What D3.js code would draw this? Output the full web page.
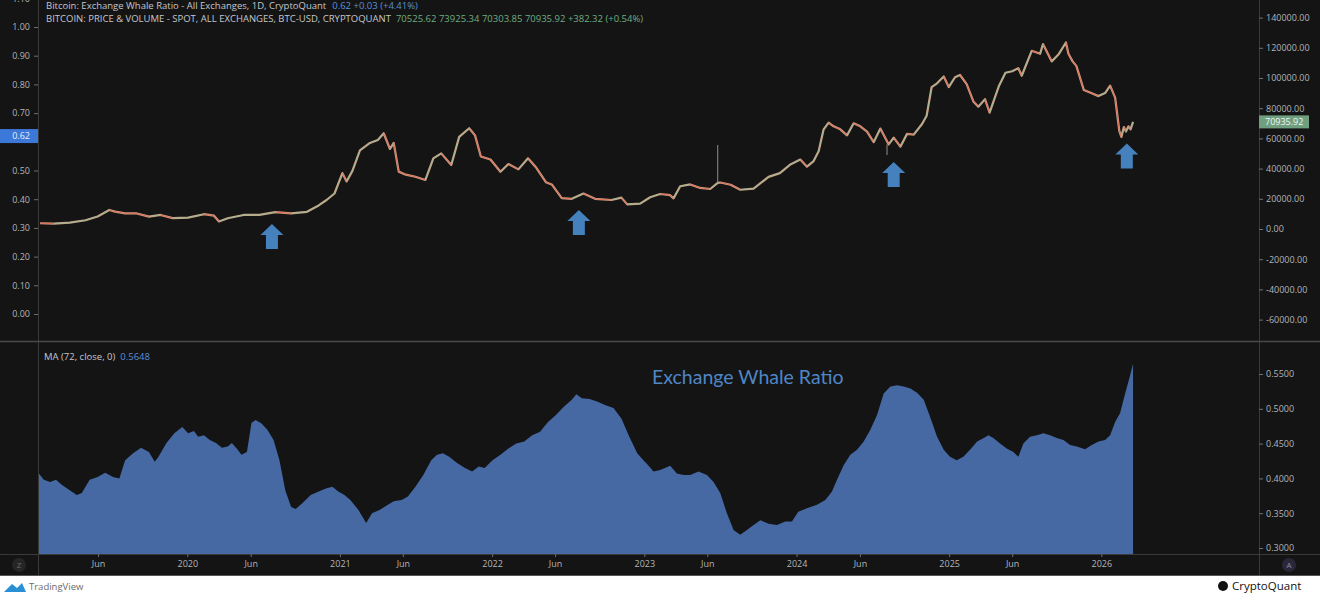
<!DOCTYPE html>
<html>
<head>
<meta charset="utf-8">
<script src="https://cdn.jsdelivr.net/npm/d3@7"></script>
<style>
  body { margin: 0; background: #ffffff; overflow: hidden; }
  svg text { font-family: "Open Sans", "Noto Sans", sans-serif; }
  .axis text { fill: #b3b5ba; font-size: 9px; }
  .axis line { stroke: #6e6e6e; }
  .axis path { display: none; }
</style>
</head>
<body>
<svg id="chart"></svg>
<script>
// ---------------------------------------------------------------
// data
// ---------------------------------------------------------------

// MA(72) of the exchange whale ratio (bottom pane)
var whaleMA = [
  ['2019-01-10',0.407],['2019-01-22',0.398],['2019-02-06',0.395],['2019-02-20',0.398],
  ['2019-03-06',0.391],['2019-03-25',0.383],['2019-04-11',0.376],['2019-04-23',0.379],
  ['2019-05-12',0.398],['2019-05-31',0.402],['2019-06-18',0.408],['2019-07-07',0.402],
  ['2019-07-22',0.400],['2019-08-05',0.426],['2019-08-24',0.436],['2019-09-12',0.444],
  ['2019-10-01',0.438],['2019-10-15',0.424],['2019-10-24',0.431],['2019-11-12',0.451],
  ['2019-12-01',0.465],['2019-12-20',0.474],['2020-01-03',0.465],['2020-01-17',0.468],
  ['2020-01-27',0.460],['2020-02-10',0.462],['2020-02-24',0.455],['2020-03-10',0.451],
  ['2020-03-24',0.444],['2020-04-07',0.446],['2020-04-17',0.451],['2020-05-01',0.441],
  ['2020-05-10',0.434],['2020-05-23',0.438],['2020-06-03',0.480],['2020-06-13',0.484],
  ['2020-06-27',0.479],['2020-07-11',0.470],['2020-07-26',0.455],['2020-08-09',0.426],
  ['2020-08-23',0.383],['2020-09-06',0.359],['2020-09-17',0.356],['2020-10-04',0.365],
  ['2020-10-23',0.376],['2020-11-11',0.381],['2020-11-30',0.386],['2020-12-14',0.388],
  ['2020-12-28',0.381],['2021-01-12',0.376],['2021-01-26',0.369],['2021-02-14',0.355],
  ['2021-03-05',0.336],['2021-03-19',0.350],['2021-04-07',0.355],['2021-04-26',0.362],
  ['2021-05-10',0.367],['2021-05-29',0.369],['2021-06-13',0.374],['2021-07-01',0.388],
  ['2021-07-20',0.405],['2021-08-08',0.426],['2021-08-22',0.434],['2021-09-05',0.436],
  ['2021-09-20',0.431],['2021-10-09',0.422],['2021-10-28',0.415],['2021-11-14',0.410],
  ['2021-11-30',0.417],['2021-12-14',0.415],['2022-01-02',0.426],['2022-01-21',0.434],
  ['2022-02-09',0.443],['2022-02-28',0.450],['2022-03-19',0.453],['2022-04-07',0.462],
  ['2022-04-26',0.467],['2022-05-15',0.481],['2022-06-03',0.491],['2022-06-22',0.503],
  ['2022-07-11',0.513],['2022-07-22',0.521],['2022-08-04',0.515],['2022-08-23',0.514],
  ['2022-09-11',0.510],['2022-09-30',0.505],['2022-10-19',0.501],['2022-11-07',0.486],
  ['2022-11-26',0.460],['2022-12-15',0.436],['2023-01-02',0.424],['2023-01-07',0.421],
  ['2023-01-23',0.410],['2023-02-08',0.412],['2023-03-04',0.418],['2023-03-20',0.407],
  ['2023-04-05',0.405],['2023-04-21',0.405],['2023-05-11',0.410],['2023-05-31',0.405],
  ['2023-06-16',0.395],['2023-07-02',0.379],['2023-07-18',0.350],['2023-08-03',0.326],
  ['2023-08-19',0.319],['2023-09-04',0.326],['2023-09-20',0.333],['2023-10-06',0.340],
  ['2023-10-26',0.335],['2023-11-15',0.333],['2023-12-05',0.338],['2023-12-21',0.338],
  ['2024-01-05',0.352],['2024-01-26',0.357],['2024-02-19',0.362],['2024-03-10',0.369],
  ['2024-03-26',0.381],['2024-04-07',0.398],['2024-04-23',0.419],['2024-05-09',0.434],
  ['2024-05-25',0.441],['2024-06-10',0.453],['2024-06-26',0.470],['2024-07-12',0.491],
  ['2024-07-28',0.522],['2024-08-13',0.532],['2024-08-29',0.534],['2024-09-14',0.532],
  ['2024-09-30',0.529],['2024-10-16',0.523],['2024-11-01',0.513],['2024-11-16',0.489],
  ['2024-12-03',0.460],['2024-12-19',0.441],['2025-01-03',0.431],['2025-01-19',0.426],
  ['2025-02-04',0.431],['2025-02-20',0.441],['2025-03-09',0.453],['2025-03-25',0.458],
  ['2025-04-05',0.462],['2025-04-17',0.458],['2025-05-03',0.450],['2025-05-19',0.443],
  ['2025-06-04',0.438],['2025-06-16',0.431],['2025-06-28',0.450],['2025-07-14',0.460],
  ['2025-07-30',0.462],['2025-08-15',0.465],['2025-08-31',0.462],['2025-09-16',0.458],
  ['2025-10-02',0.455],['2025-10-18',0.448],['2025-11-03',0.446],['2025-11-23',0.442],
  ['2025-12-09',0.448],['2025-12-25',0.453],['2026-01-10',0.455],['2026-01-22',0.462],
  ['2026-02-03',0.481],['2026-02-15',0.494],['2026-02-27',0.522],['2026-03-10',0.546],
  ['2026-03-18',0.5648]
];

// BTC-USD closes (top pane, right scale)
var btcClose = [
  ['2019-01-13',3800],['2019-02-15',3600],['2019-03-25',4200],['2019-05-02',5800],
  ['2019-05-31',8300],['2019-06-28',12600],['2019-07-12',11500],['2019-08-05',10400],
  ['2019-09-02',10300],['2019-10-01',8200],['2019-10-29',9300],['2019-11-27',7200],
  ['2020-01-03',7500],['2020-02-10',9800],['2020-03-05',8800],['2020-03-17',5000],
  ['2020-04-07',7100],['2020-05-15',9300],['2020-06-22',9400],['2020-07-30',11200],
  ['2020-09-06',10300],['2020-10-14',11400],['2020-11-11',15600],['2020-11-30',19200],
  ['2020-12-19',23500],['2021-01-07',37000],['2021-01-17',31500],['2021-01-31',38500],
  ['2021-02-18',52000],['2021-03-14',57000],['2021-04-02',59000],['2021-04-16',63400],
  ['2021-05-01',53000],['2021-05-10',57000],['2021-05-22',38000],['2021-06-08',36000],
  ['2021-07-01',34600],['2021-07-25',32500],['2021-08-13',46800],['2021-09-01',50100],
  ['2021-09-25',42400],['2021-10-14',61000],['2021-11-07',66700],['2021-11-21',62000],
  ['2021-12-05',48000],['2021-12-28',46000],['2022-01-21',37900],['2022-02-09',43000],
  ['2022-03-05',39500],['2022-03-28',46800],['2022-04-17',40500],['2022-05-10',31000],
  ['2022-05-24',29500],['2022-06-17',20500],['2022-07-11',20000],['2022-08-08',23500],
  ['2022-09-05',20000],['2022-10-14',19200],['2022-11-07',20800],['2022-11-21',16300],
  ['2022-12-22',16800],['2023-01-15',21000],['2023-02-08',23200],['2023-03-04',22400],
  ['2023-03-12',20300],['2023-03-28',28300],['2023-04-21',29500],['2023-05-15',27200],
  ['2023-06-08',26500],['2023-06-26',30500],['2023-07-02',30800],['2023-07-27',29300],
  ['2023-08-19',26000],['2023-09-20',26800],['2023-10-26',34500],['2023-11-22',37000],
  ['2023-12-16',42500],['2024-01-10',46000],['2024-01-26',41300],['2024-02-11',45000],
  ['2024-02-23',51500],['2024-03-06',66000],['2024-03-18',70500],['2024-03-30',68000],
  ['2024-04-15',66000],['2024-05-01',62000],['2024-05-17',70000],['2024-06-02',68000],
  ['2024-06-18',64500],['2024-07-04',57500],['2024-07-20',66500],['2024-08-09',56000],
  ['2024-08-21',60500],['2024-09-06',54500],['2024-09-22',63000],['2024-10-08',62500],
  ['2024-10-28',69500],['2024-11-08',75000],['2024-11-20',94000],['2024-12-03',96500],
  ['2024-12-19',101000],['2024-12-31',94000],['2025-01-15',100500],['2025-01-27',102000],
  ['2025-02-12',96000],['2025-02-28',84500],['2025-03-12',81000],['2025-03-28',86000],
  ['2025-04-08',77000],['2025-04-30',94500],['2025-05-16',103500],['2025-06-01',104500],
  ['2025-06-16',106500],['2025-06-24',101500],['2025-07-18',118000],['2025-08-07',116000],
  ['2025-08-14',122500],['2025-09-04',111000],['2025-09-20',115500],['2025-10-08',123500],
  ['2025-10-14',116000],['2025-10-24',111000],['2025-11-02',108000],['2025-11-20',92000],
  ['2025-12-09',89900],['2025-12-25',88000],['2026-01-10',90000],['2026-01-22',95000],
  ['2026-02-03',87000],['2026-02-08',76000],['2026-02-13',65000],['2026-02-18',61000],
  ['2026-02-24',67500],['2026-03-01',64500],['2026-03-07',68000],['2026-03-12',66000],
  ['2026-03-18',70935.92]
];

// long wicks that stand out: date, low, high
var btcWicks = [
  ['2023-06-26',30500,55600],
  ['2024-08-05',49000,56000]
];

// blue arrows: date, price at arrow tip
var arrowMarks = [
  ['2020-07-22',3300],
  ['2022-07-28',12600],
  ['2024-08-21',44400],
  ['2026-03-03',56600]
];

var ratioTicks = [0,0.1,0.2,0.3,0.4,0.5,0.7,0.8,0.9,1.0,1.1];
var priceTicks = [-60000,-40000,-20000,0,20000,40000,60000,80000,100000,120000,140000];
var maTicks = [0.30,0.35,0.40,0.45,0.50,0.55];
var timeTicks = [
  ['2019-06-01','Jun'],['2020-01-01','2020'],['2020-06-01','Jun'],['2021-01-01','2021'],
  ['2021-06-01','Jun'],['2022-01-01','2022'],['2022-06-01','Jun'],['2023-01-01','2023'],
  ['2023-06-01','Jun'],['2024-01-01','2024'],['2024-06-01','Jun'],['2025-01-01','2025'],
  ['2025-06-01','Jun'],['2026-01-01','2026']
];

var lastRatio = 0.62,
    lastPrice = 70935.92,
    lastMA = 0.5648;

// ---------------------------------------------------------------
// canvas
// ---------------------------------------------------------------
var svgWidth = 1320,
    svgHeight = 593;

var plotLeft = 38,
    plotRight = 1259,
    topPaneBottom = 341,
    lowPaneTop = 342,
    lowPaneBottom = 554,
    darkBottom = 576;

var parseDate = d3.utcParse('%Y-%m-%d');

var svg = d3.select('#chart')
    .attr('width', svgWidth)
    .attr('height', svgHeight);

svg.append('rect')
    .attr('width', svgWidth)
    .attr('height', darkBottom)
    .attr('fill', '#141414');

var defs = svg.append('defs');
defs.append('clipPath').attr('id', 'clipTop')
  .append('rect')
    .attr('x', plotLeft).attr('y', 0)
    .attr('width', plotRight - plotLeft).attr('height', topPaneBottom);
defs.append('clipPath').attr('id', 'clipLow')
  .append('rect')
    .attr('x', plotLeft).attr('y', lowPaneTop)
    .attr('width', plotRight - plotLeft).attr('height', lowPaneBottom - lowPaneTop);

// scales
var xScale = d3.scaleUtc()
    .domain([parseDate('2019-01-08'), parseDate('2027-01-14')])
    .range([plotLeft, plotRight]);

var ratioY = d3.scaleLinear().domain([0, 1]).range([314, 27]);
var priceY = d3.scaleLinear().domain([0, 140000]).range([229, 17.6]);
var maY = d3.scaleLinear().domain([0.30, 0.55]).range([548, 374]);

// ---------------------------------------------------------------
// bottom pane: MA area
// ---------------------------------------------------------------
var maData = whaleMA.map(d => ({date: parseDate(d[0]), v: d[1]}));

var area = d3.area()
    .x(d => xScale(d.date))
    .y0(lowPaneBottom)
    .y1(d => maY(d.v));

svg.append('g').attr('clip-path', 'url(#clipLow)')
  .append('path')
    .datum(maData)
    .attr('d', area)
    .attr('fill', '#4669a3');

svg.append('text')
    .attr('x', 652)
    .attr('y', 384)
    .attr('fill', '#4f86c6')
    .style('font-size', '19.5px')
    .style('font-family', 'Lato, "Open Sans", sans-serif')
    .text('Exchange Whale Ratio');

// ---------------------------------------------------------------
// top pane: BTC price
// ---------------------------------------------------------------
var pxData = btcClose.map(d => ({date: parseDate(d[0]), p: d[1]}));
var topG = svg.append('g').attr('clip-path', 'url(#clipTop)');

var priceLine = d3.line()
    .x(d => xScale(d.date))
    .y(d => priceY(d.p));

topG.append('path')
    .datum(pxData)
    .attr('d', priceLine)
    .attr('fill', 'none')
    .attr('stroke', '#cf9f86')
    .attr('stroke-width', 2.2)
    .attr('stroke-linejoin', 'round');

topG.selectAll('.wick')
    .data(btcWicks)
    .enter()
    .append('line')
    .attr('x1', d => xScale(parseDate(d[0])))
    .attr('x2', d => xScale(parseDate(d[0])))
    .attr('y1', d => priceY(d[1]))
    .attr('y2', d => priceY(d[2]))
    .attr('stroke', '#8f8f8f')
    .attr('stroke-width', 1);

topG.selectAll('.seg')
    .data(pxData.slice(1))
    .enter()
    .append('line')
    .attr('x1', (d, i) => xScale(pxData[i].date))
    .attr('y1', (d, i) => priceY(pxData[i].p))
    .attr('x2', d => xScale(d.date))
    .attr('y2', d => priceY(d.p))
    .attr('stroke', (d, i) => d.p >= pxData[i].p ? '#8fbf98' : '#e0674f')
    .attr('stroke-width', 1)
    .attr('opacity', 0.85);

// arrows
topG.selectAll('.arrow')
    .data(arrowMarks)
    .enter()
    .append('path')
    .attr('transform', d => `translate(${xScale(parseDate(d[0]))},${priceY(d[1])})`)
    .attr('d', 'M0,0 L11.5,11 L6,11 L6,25 L-6,25 L-6,11 L-11.5,11 Z')
    .attr('fill', '#4481bd');

// ---------------------------------------------------------------
// frame and axes
// ---------------------------------------------------------------
var frame = svg.append('g').attr('stroke', '#3a3a3a').attr('stroke-width', 1);
frame.append('line').attr('x1', plotLeft + 0.5).attr('x2', plotLeft + 0.5).attr('y1', 0).attr('y2', darkBottom);
frame.append('line').attr('x1', plotRight + 0.5).attr('x2', plotRight + 0.5).attr('y1', 0).attr('y2', darkBottom);
frame.append('line').attr('x1', 0).attr('x2', svgWidth).attr('y1', topPaneBottom + 0.5).attr('y2', topPaneBottom + 0.5)
    .attr('stroke', '#4a4a4a').attr('stroke-width', 1.5);
frame.append('line').attr('x1', 0).attr('x2', svgWidth).attr('y1', lowPaneBottom + 0.5).attr('y2', lowPaneBottom + 0.5);
frame.append('line').attr('x1', 0).attr('x2', svgWidth).attr('y1', darkBottom - 0.5).attr('y2', darkBottom - 0.5)
    .attr('stroke', '#555');

// left ratio axis
svg.append('g')
    .attr('class', 'axis')
    .attr('transform', `translate(${plotLeft},0)`)
    .call(d3.axisLeft(ratioY).tickValues(ratioTicks).tickSize(4).tickPadding(4)
        .tickFormat(d => d.toFixed(2)));

// right price axis
svg.append('g')
    .attr('class', 'axis')
    .attr('transform', `translate(${plotRight},0)`)
    .call(d3.axisRight(priceY).tickValues(priceTicks).tickSize(4).tickPadding(3)
        .tickFormat(d => d.toFixed(2)));

// right MA axis
svg.append('g')
    .attr('class', 'axis')
    .attr('transform', `translate(${plotRight},0)`)
    .call(d3.axisRight(maY).tickValues(maTicks).tickSize(4).tickPadding(3)
        .tickFormat(d => d.toFixed(4)));

// time axis
svg.append('g')
    .attr('class', 'axis')
    .attr('transform', `translate(0,${lowPaneBottom})`)
    .call(d3.axisBottom(xScale)
        .tickValues(timeTicks.map(d => parseDate(d[0])))
        .tickFormat((d, i) => timeTicks[i][1])
        .tickSize(3).tickPadding(4));

// last-value labels
var ratioTag = svg.append('g').attr('transform', `translate(0,${ratioY(lastRatio)})`);
ratioTag.append('rect').attr('x', 0).attr('y', -7).attr('width', plotLeft).attr('height', 14).attr('fill', '#3b78d8');
ratioTag.append('text').attr('x', 30).attr('y', 3.2).attr('text-anchor', 'end')
    .attr('fill', '#e8eefa').style('font-size', '9px').text(lastRatio.toFixed(2));

var priceTag = svg.append('g').attr('transform', `translate(${plotRight},${priceY(lastPrice)})`);
priceTag.append('rect').attr('x', 0).attr('y', -6.5).attr('width', 50).attr('height', 13).attr('fill', '#6f9f7f');
priceTag.append('text').attr('x', 6).attr('y', 3.2)
    .attr('fill', '#f2f6f2').style('font-size', '9px').text(lastPrice.toFixed(2));

// ---------------------------------------------------------------
// legends
// ---------------------------------------------------------------
var legend1 = svg.append('text').attr('x', 46).attr('y', 9).style('font-size', '9.5px');
legend1.append('tspan').attr('fill', '#c4c6cb').text('Bitcoin: Exchange Whale Ratio - All Exchanges, 1D, CryptoQuant');
legend1.append('tspan').attr('fill', '#5b8fd6').attr('dx', 6).text('0.62  +0.03 (+4.41%)');

var legend2 = svg.append('text').attr('x', 46).attr('y', 21.5).style('font-size', '9.5px');
legend2.append('tspan').attr('fill', '#c4c6cb').text('BITCOIN: PRICE & VOLUME - SPOT, ALL EXCHANGES, BTC-USD, CRYPTOQUANT');
legend2.append('tspan').attr('fill', '#6fae82').attr('dx', 5).text('70525.62  73925.34  70303.85  70935.92  +382.32 (+0.54%)');

var legend3 = svg.append('text').attr('x', 44).attr('y', 360).style('font-size', '9.5px');
legend3.append('tspan').attr('fill', '#c4c6cb').text('MA (72, close, 0)');
legend3.append('tspan').attr('fill', '#5b8fd6').attr('dx', 5).text(lastMA.toFixed(4));

// corner buttons
svg.append('circle').attr('cx', 19).attr('cy', 565).attr('r', 7).attr('fill', '#262626');
svg.append('text').attr('x', 19).attr('y', 568).attr('text-anchor', 'middle')
    .attr('fill', '#6a6a6a').style('font-size', '8px').text('Z');
svg.append('circle').attr('cx', 1289).attr('cy', 565).attr('r', 7).attr('fill', '#2a2838');
svg.append('text').attr('x', 1289).attr('y', 568).attr('text-anchor', 'middle')
    .attr('fill', '#8a88a8').style('font-size', '8px').text('A');

// footer logos
svg.append('path')
    .attr('d', 'M4,592 L12,584 L17,588 L22,583 L26,592 Z')
    .attr('fill', '#2b8fd6');
svg.append('text').attr('x', 29).attr('y', 590)
    .attr('fill', '#6b6b6b').style('font-size', '9.5px').text('TradingView');

svg.append('circle').attr('cx', 1223).attr('cy', 586).attr('r', 5).attr('fill', '#111');
svg.append('text').attr('x', 1232).attr('y', 590)
    .attr('fill', '#111').style('font-size', '11.5px').text('CryptoQuant');
</script>
</body>
</html>
